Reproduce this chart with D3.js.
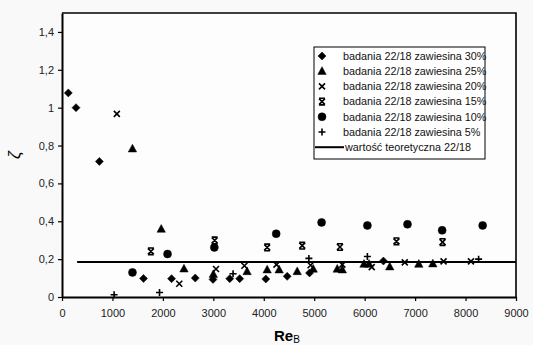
<!DOCTYPE html>
<html lang="pl">
<head>
    <meta charset="UTF-8">
    <title>zeta vs ReB</title>
    <script type="text/javascript" src="https://cdnjs.cloudflare.com/ajax/libs/d3/7.8.5/d3.min.js"></script>
    <style>
        body { margin: 0; background: #f9f9f9; }
        svg text { font-family: Arial, "Liberation Sans", sans-serif; }
    </style>
</head>
<body>
<svg id="chart" width="533" height="345"></svg>
<script>
    // data
    var s30 = [[125,1.078],[278,1.00],[741,0.716],[1616,0.098],[2172,0.097],[2642,0.10],[2993,0.093],
        [3325,0.097],[3523,0.097],[4040,0.095],[4464,0.109],[4907,0.127],[6372,0.19]];
    var s25 = [[1397,0.783],[1967,0.359],[2418,0.149],[3000,0.12],[3669,0.135],[4067,0.144],[4305,0.144],
        [4663,0.135],[4980,0.148],[5457,0.148],[5557,0.144],[5987,0.174],[6087,0.174],[6497,0.16],
        [7073,0.174],[7351,0.176]];
    var s20 = [[1087,0.967],[2325,0.07],[3053,0.148],[3616,0.165],[4252,0.171],[4928,0.168],[5557,0.171],
        [6140,0.158],[6795,0.183],[7564,0.188],[8107,0.188]];
    var s15 = [[1762,0.241],[3026,0.299],[4067,0.262],[4762,0.271],[5510,0.264],[6630,0.294],[7544,0.29]];
    var s10 = [[1397,0.13],[2092,0.227],[3020,0.262],[4246,0.334],[5146,0.394],[6054,0.378],[6849,0.384],
        [7536,0.352],[8339,0.378]];
    var s05 = [[1033,0.012],[1933,0.024],[3391,0.123],[4894,0.204],[6054,0.214],[8259,0.20]];
    var theory = [[300,0.185],[9000,0.185]];

    var xTicks = [0,1000,2000,3000,4000,5000,6000,7000,8000,9000];
    var yTicks = [0,0.2,0.4,0.6,0.8,1,1.2,1.4];

    var series = [
        {name: "badania 22/18 zawiesina 30%", data: s30, sym: "diamond"},
        {name: "badania 22/18 zawiesina 25%", data: s25, sym: "triangle"},
        {name: "badania 22/18 zawiesina 20%", data: s20, sym: "cross"},
        {name: "badania 22/18 zawiesina 15%", data: s15, sym: "bowtie"},
        {name: "badania 22/18 zawiesina 10%", data: s10, sym: "circle"},
        {name: "badania 22/18 zawiesina 5%", data: s05, sym: "plus"}
    ];

    var margin = {top: 13, right: 17, bottom: 48, left: 62},
        width = 533 - margin.left - margin.right,
        height = 345 - margin.top - margin.bottom;

    var svg = d3.select("#chart");
    var g = svg.append("g").attr("transform", "translate(" + margin.left + "," + margin.top + ")");

    var x = d3.scaleLinear().domain([0, 9000]).range([0, width]);
    var y = d3.scaleLinear().domain([0, 1.5]).range([height, 0]);

    g.append("rect").attr("width", width).attr("height", height).attr("fill", "#fdfdfd");

    var fmt = function(d) { return String(d).replace(".", ","); };

    var xAxis = g.append("g").attr("transform", "translate(0," + height + ")")
        .call(d3.axisBottom(x).tickValues(xTicks).tickSize(4).tickSizeOuter(0).tickFormat(d3.format("d")));
    var yAxis = g.append("g")
        .call(d3.axisLeft(y).tickValues(yTicks).tickSize(4).tickSizeOuter(0).tickFormat(fmt));

    [xAxis, yAxis].forEach(function(a) {
        a.select(".domain").attr("stroke", "#000").attr("stroke-width", 2);
        a.selectAll(".tick line").attr("stroke", "#000").attr("stroke-width", 1.2);
        a.selectAll(".tick text").attr("fill", "#222").style("font-size", "11px");
    });
    xAxis.selectAll(".tick text").attr("dy", "1.2em");
    yAxis.selectAll(".tick text").attr("x", -8);

    // top and right frame
    g.append("path")
        .attr("d", "M0,0H" + width + "V" + height)
        .attr("fill", "none").attr("stroke", "#000").attr("stroke-width", 1.6);

    // theoretical line
    g.append("path").datum(theory)
        .attr("d", d3.line().x(function(d) { return x(d[0]); }).y(function(d) { return y(d[1]); }))
        .attr("fill", "none").attr("stroke", "#000").attr("stroke-width", 2);

    function symbolPath(sym) {
        switch (sym) {
            case "diamond": return "M0,-4L4,0L0,4L-4,0Z";
            case "triangle": return "M0,-4.5L4.2,3.2L-4.2,3.2Z";
            case "cross": return "M-3,-3L3,3M-3,3L3,-3";
            case "bowtie": return "M-3,-3L3,3M-3,3L3,-3M-3,-3.3H3M-3,3.3H3";
            case "circle": return d3.symbol(d3.symbolCircle, 50)();
            case "plus": return "M-3.5,0H3.5M0,-3.5V3.5";
        }
    }
    function styleSym(sel, sym) {
        var filled = (sym === "diamond" || sym === "triangle" || sym === "circle");
        sel.attr("d", symbolPath(sym))
            .attr("fill", filled ? "#000" : "none")
            .attr("stroke", "#000")
            .attr("stroke-width", filled ? 0.5 : 1.6);
    }

    series.forEach(function(s) {
        g.append("g").selectAll("path").data(s.data).enter().append("path")
            .attr("transform", function(d) { return "translate(" + x(d[0]) + "," + y(d[1]) + ")"; })
            .call(styleSym, s.sym);
    });

    // legend
    var lg = svg.append("g").attr("transform", "translate(314,47)");
    lg.append("rect").attr("width", 171).attr("height", 112)
        .attr("fill", "#fff").attr("stroke", "#000").attr("stroke-width", 1);
    series.forEach(function(s, i) {
        var row = lg.append("g").attr("transform", "translate(0," + (9 + i * 15.2) + ")");
        row.append("path").attr("transform", "translate(8,0)").call(styleSym, s.sym);
        row.append("text").attr("x", 29).attr("dy", "0.35em")
            .style("font-size", "10.8px").attr("fill", "#111").text(s.name);
    });
    var ly = 9 + 6 * 15.2;
    lg.append("line").attr("x1", 1).attr("x2", 30).attr("y1", ly).attr("y2", ly)
        .attr("stroke", "#000").attr("stroke-width", 2);
    lg.append("text").attr("x", 31).attr("y", ly).attr("dy", "0.35em")
        .style("font-size", "10.8px").attr("fill", "#111").text("wartość teoretyczna 22/18");

    // axis titles
    svg.append("text")
        .attr("transform", "translate(20,155) rotate(-90)")
        .attr("text-anchor", "middle")
        .style("font-size", "17px").style("font-style", "italic")
        .text("ζ");
    var xt = svg.append("text").attr("x", 274).attr("y", 341)
        .style("font-size", "15px").style("font-weight", "bold");
    xt.append("tspan").text("Re");
    xt.append("tspan").style("font-size", "10px").style("font-weight", "normal").attr("dy", 2).text("B");
</script>
</body>
</html>
